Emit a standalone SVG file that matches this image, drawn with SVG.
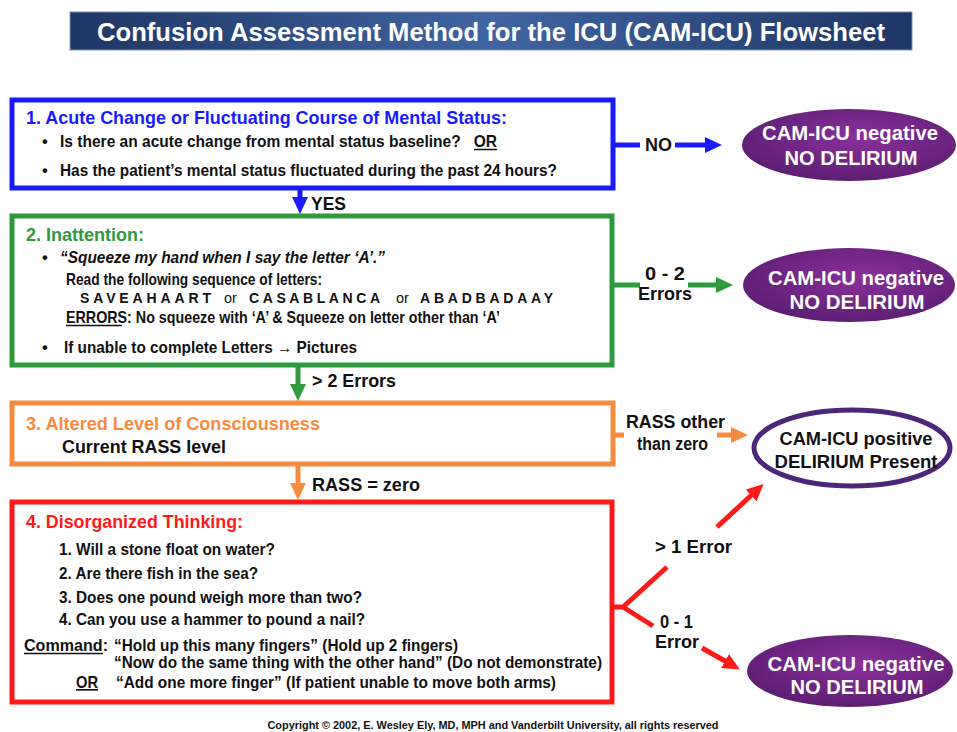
<svg xmlns="http://www.w3.org/2000/svg" width="957" height="732" viewBox="0 0 957 732">
  <defs>
    <linearGradient id="titleGrad" x1="0" y1="0" x2="1" y2="0">
      <stop offset="0" stop-color="#1d3563"/>
      <stop offset="0.5" stop-color="#4065a2"/>
      <stop offset="1" stop-color="#1d3563"/>
    </linearGradient>
    <radialGradient id="purpleGrad" cx="0.55" cy="0.4" r="0.65">
      <stop offset="0" stop-color="#8a309c"/>
      <stop offset="1" stop-color="#5a1d70"/>
    </radialGradient>
    <marker id="ahBlue" markerUnits="userSpaceOnUse" markerWidth="18" markerHeight="16" refX="8" refY="8" orient="auto">
      <path d="M0,0 L17,8 L0,16 z" fill="#1a1aff"/>
    </marker>
    <marker id="ahGreen" markerUnits="userSpaceOnUse" markerWidth="18" markerHeight="16" refX="8" refY="8" orient="auto">
      <path d="M0,0 L17,8 L0,16 z" fill="#2e9a3c"/>
    </marker>
    <marker id="ahOrange" markerUnits="userSpaceOnUse" markerWidth="18" markerHeight="16" refX="8" refY="8" orient="auto">
      <path d="M0,0 L17,8 L0,16 z" fill="#f58b3e"/>
    </marker>
    <marker id="ahRed" markerUnits="userSpaceOnUse" markerWidth="18" markerHeight="16" refX="8" refY="8" orient="auto">
      <path d="M0,0 L17,8 L0,16 z" fill="#ff1a1a"/>
    </marker>
  </defs>
  <style>
    text { font-family: "Liberation Sans", Arial, sans-serif; font-weight: bold; fill: #111; }
    .box { fill: #fff; stroke-width: 5; }
    .head { font-size: 18.5px; }
    .body { font-size: 16.5px; }
    .lbl { font-size: 18px; }
    .oval { font-size: 20.5px; fill: #fff; text-anchor: middle; }
    .seq { font-size: 14px; }
    .or { font-size: 14.5px; font-weight: normal; }
    .ul { text-decoration: underline; }
    .uline { stroke: #111; stroke-width: 1.5; }
    .conn { fill: none; stroke-width: 5; }
  </style>

  <rect width="957" height="732" fill="#fff"/>

  <!-- title bar -->
  <g id="title">
    <rect x="70" y="12" width="842" height="38" fill="url(#titleGrad)" stroke="#7d93bd" stroke-width="1"/>
    <text x="491" y="41" font-size="25" text-anchor="middle" style="fill:#fff" textLength="788" lengthAdjust="spacingAndGlyphs">Confusion Assessment Method for the ICU (CAM-ICU) Flowsheet</text>
  </g>

  <!-- step 1 -->
  <g id="step1">
    <rect class="box" x="12" y="100" width="601" height="88" stroke="#1a1aff"/>
    <text class="head" x="26" y="124" style="fill:#1a1aff" textLength="481" lengthAdjust="spacingAndGlyphs">1. Acute Change or Fluctuating Course of Mental Status:</text>
    <text class="body" x="42" y="147">•</text>
    <text class="body" x="60" y="147" textLength="437" lengthAdjust="spacingAndGlyphs">Is there an acute change from mental status baseline?&#160;&#160;&#160;OR</text>
    <line class="uline" x1="474" y1="149.5" x2="497" y2="149.5"/>
    <text class="body" x="42" y="176">•</text>
    <text class="body" x="60" y="176" textLength="497" lengthAdjust="spacingAndGlyphs">Has the patient’s mental status fluctuated during the past 24 hours?</text>
  </g>

  <!-- step 2 -->
  <g id="step2">
    <rect class="box" x="12" y="216" width="600" height="149" stroke="#2e9a3c"/>
    <text class="head" x="26" y="241" style="fill:#2e9a3c" textLength="118" lengthAdjust="spacingAndGlyphs">2. Inattention:</text>
    <text class="body" x="42" y="263">•</text>
    <text class="body" x="60" y="263" font-style="italic" textLength="325" lengthAdjust="spacingAndGlyphs">“Squeeze my hand when I say the letter ‘A’.”</text>
    <text class="body" x="66" y="285" textLength="256" lengthAdjust="spacingAndGlyphs">Read the following sequence of letters:</text>
    <text class="seq" x="80" y="303" textLength="134" lengthAdjust="spacing" letter-spacing="3">SAVEAHAART</text>
    <text class="or" x="224" y="303">or</text>
    <text class="seq" x="249" y="303" textLength="134" lengthAdjust="spacing" letter-spacing="3">CASABLANCA</text>
    <text class="or" x="396" y="303">or</text>
    <text class="seq" x="420" y="303" textLength="136" lengthAdjust="spacing" letter-spacing="3">ABADBADAAY</text>
    <text class="body" x="66" y="323" textLength="434" lengthAdjust="spacingAndGlyphs">ERRORS: No squeeze with ‘A’ &amp; Squeeze on letter other than ‘A’</text>
    <line class="uline" x1="66" y1="325.5" x2="122" y2="325.5"/>
    <text class="body" x="42" y="353">•</text>
    <text class="body" x="64" y="353" textLength="293" lengthAdjust="spacingAndGlyphs">If unable to complete Letters → Pictures</text>
  </g>

  <!-- step 3 -->
  <g id="step3">
    <rect class="box" x="12" y="403" width="601" height="61" stroke="#f58b3e"/>
    <text class="head" x="26" y="430" style="fill:#f58b3e" textLength="294" lengthAdjust="spacingAndGlyphs">3. Altered Level of Consciousness</text>
    <text class="lbl" x="62" y="453" textLength="164" lengthAdjust="spacingAndGlyphs">Current RASS level</text>
  </g>

  <!-- step 4 -->
  <g id="step4">
    <rect class="box" x="12" y="502" width="600" height="200" stroke="#ff1a1a"/>
    <text class="head" x="26" y="528" style="fill:#ff1a1a" textLength="217" lengthAdjust="spacingAndGlyphs">4. Disorganized Thinking:</text>
    <text class="body" x="59" y="555" textLength="216" lengthAdjust="spacingAndGlyphs">1. Will a stone float on water?</text>
    <text class="body" x="59" y="579" textLength="199" lengthAdjust="spacingAndGlyphs">2. Are there fish in the sea?</text>
    <text class="body" x="59" y="603" textLength="303" lengthAdjust="spacingAndGlyphs">3. Does one pound weigh more than two?</text>
    <text class="body" x="59" y="625" textLength="306" lengthAdjust="spacingAndGlyphs">4. Can you use a hammer to pound a nail?</text>
    <text class="body" x="24" y="651" textLength="84" lengthAdjust="spacingAndGlyphs">Command:</text>
    <line class="uline" x1="24" y1="653.5" x2="103" y2="653.5"/>
    <text class="body" x="114" y="651" textLength="344" lengthAdjust="spacingAndGlyphs">“Hold up this many fingers” (Hold up 2 fingers)</text>
    <text class="body" x="114" y="668" textLength="488" lengthAdjust="spacingAndGlyphs">“Now do the same thing with the other hand” (Do not demonstrate)</text>
    <text class="body ul" x="76" y="688" textLength="22" lengthAdjust="spacingAndGlyphs">OR</text>
    <text class="body" x="116" y="688" textLength="440" lengthAdjust="spacingAndGlyphs">“Add one more finger” (If patient unable to move both arms)</text>
  </g>

  <!-- outcomes -->
  <g id="neg1">
    <ellipse cx="849" cy="145" rx="107" ry="36" fill="url(#purpleGrad)"/>
    <text class="oval" x="850" y="140" textLength="176" lengthAdjust="spacingAndGlyphs">CAM-ICU negative</text>
    <text class="oval" x="851" y="165" textLength="133" lengthAdjust="spacingAndGlyphs">NO DELIRIUM</text>
  </g>
  <g id="neg2">
    <ellipse cx="849" cy="285" rx="106" ry="37" fill="url(#purpleGrad)"/>
    <text class="oval" x="856" y="285" textLength="176" lengthAdjust="spacingAndGlyphs">CAM-ICU negative</text>
    <text class="oval" x="857" y="309" textLength="135" lengthAdjust="spacingAndGlyphs">NO DELIRIUM</text>
  </g>
  <g id="pos">
    <ellipse cx="852" cy="448" rx="98" ry="38" fill="#fff" stroke="#4b2679" stroke-width="5"/>
    <text x="856" y="445" font-size="18" text-anchor="middle" textLength="153" lengthAdjust="spacingAndGlyphs">CAM-ICU positive</text>
    <text x="856" y="468" font-size="18" text-anchor="middle" textLength="163" lengthAdjust="spacingAndGlyphs">DELIRIUM Present</text>
  </g>
  <g id="neg3">
    <ellipse cx="850" cy="671" rx="103" ry="36" fill="url(#purpleGrad)"/>
    <text class="oval" x="856" y="671" textLength="177" lengthAdjust="spacingAndGlyphs">CAM-ICU negative</text>
    <text class="oval" x="857" y="694" textLength="133" lengthAdjust="spacingAndGlyphs">NO DELIRIUM</text>
  </g>

  <!-- connectors -->
  <g id="connectors">
    <line class="conn" x1="615" y1="145" x2="640" y2="145" stroke="#1a1aff"/>
    <line class="conn" x1="675" y1="145" x2="713" y2="145" stroke="#1a1aff" marker-end="url(#ahBlue)"/>
    <line class="conn" x1="300" y1="190" x2="300" y2="205" stroke="#1a1aff" marker-end="url(#ahBlue)"/>

    <line class="conn" x1="614" y1="285" x2="640" y2="285" stroke="#2e9a3c"/>
    <line class="conn" x1="688" y1="285" x2="724" y2="285" stroke="#2e9a3c" marker-end="url(#ahGreen)"/>
    <line class="conn" x1="298" y1="367" x2="298" y2="392" stroke="#2e9a3c" marker-end="url(#ahGreen)"/>

    <line class="conn" x1="615" y1="435" x2="624" y2="435" stroke="#f58b3e"/>
    <line class="conn" x1="717" y1="435" x2="739" y2="435" stroke="#f58b3e" marker-end="url(#ahOrange)"/>
    <line class="conn" x1="298" y1="466" x2="298" y2="491" stroke="#f58b3e" marker-end="url(#ahOrange)"/>

    <polyline class="conn" points="614,607 623,607 667,567" stroke="#ff1a1a"/>
    <line class="conn" x1="623" y1="607" x2="653" y2="626" stroke="#ff1a1a"/>
    <line class="conn" x1="717" y1="527" x2="757" y2="490" stroke="#ff1a1a" marker-end="url(#ahRed)"/>
    <line class="conn" x1="702" y1="648" x2="732" y2="665" stroke="#ff1a1a" marker-end="url(#ahRed)"/>

    <text class="lbl" x="645" y="151" textLength="27" lengthAdjust="spacingAndGlyphs">NO</text>
    <text class="lbl" x="311" y="210" textLength="35" lengthAdjust="spacingAndGlyphs">YES</text>
    <text class="lbl" x="645" y="280" textLength="40" lengthAdjust="spacingAndGlyphs">0 - 2</text>
    <text class="lbl" x="638" y="300" textLength="54" lengthAdjust="spacingAndGlyphs">Errors</text>
    <text class="lbl" x="312" y="387" textLength="84" lengthAdjust="spacingAndGlyphs">&gt; 2 Errors</text>
    <text class="lbl" x="626" y="428" textLength="99" lengthAdjust="spacingAndGlyphs">RASS other</text>
    <text class="lbl" x="637" y="450" textLength="71" lengthAdjust="spacingAndGlyphs">than zero</text>
    <text class="lbl" x="312" y="491" textLength="108" lengthAdjust="spacingAndGlyphs">RASS = zero</text>
    <text class="lbl" x="655" y="553" textLength="77" lengthAdjust="spacingAndGlyphs">&gt; 1 Error</text>
    <text class="lbl" x="660" y="628" textLength="33" lengthAdjust="spacingAndGlyphs">0 - 1</text>
    <text class="lbl" x="655" y="648" textLength="44" lengthAdjust="spacingAndGlyphs">Error</text>
  </g>

  <text x="493" y="729" font-size="11.5" text-anchor="middle" textLength="451" lengthAdjust="spacingAndGlyphs">Copyright © 2002, E. Wesley Ely, MD, MPH and Vanderbilt University, all rights reserved</text>
</svg>
